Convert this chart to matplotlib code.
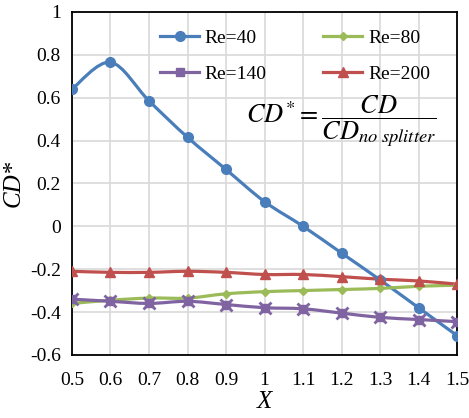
import matplotlib.pyplot as plt
import numpy as np
from matplotlib.path import Path
from matplotlib.patches import PathPatch

plt.rcParams['font.family'] = 'serif'
plt.rcParams['font.serif'] = ['Liberation Serif', 'DejaVu Serif']
plt.rcParams['mathtext.fontset'] = 'stix'

x = [0.5, 0.6, 0.7, 0.8, 0.9, 1.0, 1.1, 1.2, 1.3, 1.4, 1.5]
re40 = [0.64, 0.765, 0.585, 0.415, 0.265, 0.115, 0.0, -0.125, -0.25, -0.38, -0.51]
re80 = [-0.36, -0.345, -0.335, -0.335, -0.315, -0.305, -0.30, -0.295, -0.29, -0.28, -0.275]
re140 = [-0.34, -0.35, -0.36, -0.35, -0.365, -0.38, -0.385, -0.405, -0.425, -0.435, -0.445]
re200 = [-0.21, -0.215, -0.215, -0.21, -0.215, -0.225, -0.225, -0.235, -0.247, -0.255, -0.27]
xticks = [0.5, 0.6, 0.7, 0.8, 0.9, 1, 1.1, 1.2, 1.3, 1.4, 1.5]
yticks = [-0.6, -0.4, -0.2, 0, 0.2, 0.4, 0.6, 0.8, 1]


def smooth_path(xs, ys, t=1 / 6):
    # cubic bezier segments through the points (catmull-rom style)
    xs = np.asarray(xs, float)
    ys = np.asarray(ys, float)
    n = len(xs)
    verts = [(xs[0], ys[0])]
    codes = [Path.MOVETO]
    for i in range(n - 1):
        p0 = (xs[max(i - 1, 0)], ys[max(i - 1, 0)])
        p1 = (xs[i], ys[i])
        p2 = (xs[i + 1], ys[i + 1])
        p3 = (xs[min(i + 2, n - 1)], ys[min(i + 2, n - 1)])
        c1 = (p1[0] + (p2[0] - p0[0]) * t, p1[1] + (p2[1] - p0[1]) * t)
        c2 = (p2[0] - (p3[0] - p1[0]) * t, p2[1] - (p3[1] - p1[1]) * t)
        verts += [c1, c2, p2]
        codes += [Path.CURVE4] * 3
    return Path(verts, codes)


fig = plt.figure(figsize=(4.69, 4.18), dpi=100)
ax = fig.add_axes([0.1535, 0.151, 0.821, 0.8205])

series = {
    'Re=40': (re40, '#4A7EBB', dict(marker='o', ms=7)),
    'Re=80': (re80, '#9BBB59', dict(marker='D', ms=4.5)),
    'Re=140': (re140, '#8064A2', dict(marker='s', ms=6)),
    'Re=200': (re200, '#C0504D', dict(marker='^', ms=7)),
}

for lab, (ys, col, mk) in series.items():
    ax.add_patch(PathPatch(smooth_path(x, ys), fill=False, edgecolor=col,
                           lw=2.3, zorder=3, capstyle='round'))
    ax.plot(x, ys, ls='none', color=col, mec=col, mfc=col, zorder=4, **mk)
    if lab == 'Re=140':
        ax.plot(x, ys, ls='none', marker='x', ms=9, mew=2, color=col, zorder=4)

# legend filled column by column: 40, 140 | 80, 200
leg_handles = []
for lab in ['Re=40', 'Re=140', 'Re=80', 'Re=200']:
    ys, col, mk = series[lab]
    h, = ax.plot([], [], color=col, lw=2.3, label=lab, **mk)
    leg_handles.append(h)
ax.legend(handles=leg_handles, ncol=2, frameon=False, fontsize=14,
          loc='upper right', bbox_to_anchor=(0.975, 1.0), handlelength=2.0,
          columnspacing=2.9, labelspacing=0.95, handletextpad=0.3)

ax.text(0.70, 0.68, r'$CD^{*}=\dfrac{CD}{CD_{no\ splitter}}$', transform=ax.transAxes,
        fontsize=19, ha='center', va='center')

ax.set_xlim(0.5, 1.5)
ax.set_ylim(-0.6, 1)
ax.set_xticks(xticks)
ax.set_xticklabels(['0.5', '0.6', '0.7', '0.8', '0.9', '1', '1.1', '1.2', '1.3', '1.4', '1.5'])
ax.set_yticks(yticks)
ax.set_yticklabels(['-0.6', '-0.4', '-0.2', '0', '0.2', '0.4', '0.6', '0.8', '1'])
ax.tick_params(length=0, labelsize=14)
ax.tick_params(axis='x', pad=12)
ax.tick_params(axis='y', pad=8)
ax.grid(True, color='#D9D9D9', lw=1.2)
ax.set_axisbelow(True)
for s in ax.spines.values():
    s.set_linewidth(1.3)
    s.set_color('black')

ax.set_xlabel('X', fontsize=18, style='italic', labelpad=2)
ax.set_ylabel('CD*', fontsize=18, style='italic', labelpad=4)

fig.savefig('out.png', dpi=100)
